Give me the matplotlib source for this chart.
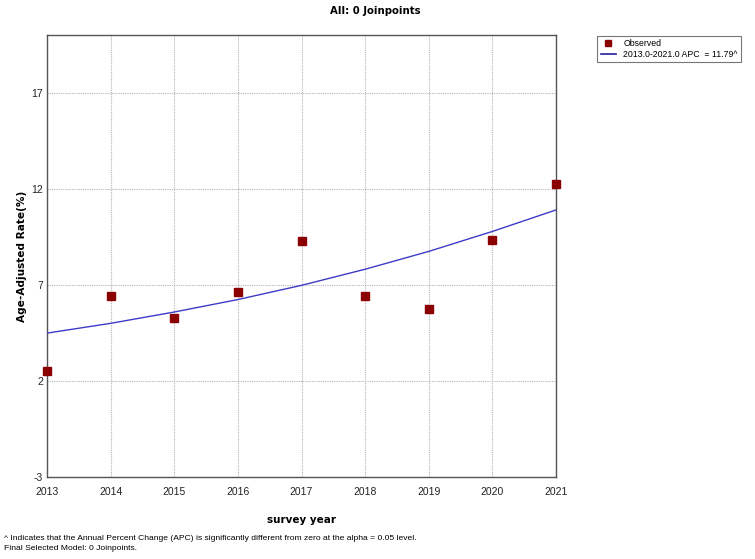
import matplotlib
matplotlib.use("Agg")
import matplotlib.pyplot as plt
from matplotlib.lines import Line2D

years = [2013, 2014, 2015, 2016, 2017, 2018, 2019, 2020, 2021]
observed = [2.51, 6.41, 5.31, 6.63, 9.28, 6.41, 5.75, 9.36, 12.28]
fitted = [4.50, 5.01, 5.60, 6.25, 6.99, 7.83, 8.76, 9.80, 10.92]
yticks = [-3, 2, 7, 12, 17]
title = "All: 0 Joinpoints"
xlabel = "survey year"
ylabel = "Age-Adjusted Rate(%)"
legend_obs = "Observed"
legend_fit = "2013.0-2021.0 APC  = 11.79^"
foot1 = "^ Indicates that the Annual Percent Change (APC) is significantly different from zero at the alpha = 0.05 level."
foot2 = "Final Selected Model: 0 Joinpoints."

plt.rcParams['font.family'] = ['Liberation Sans', 'DejaVu Sans']
plt.rcParams['axes.unicode_minus'] = False
bold_font = ['DejaVu Sans']

fig = plt.figure(figsize=(7.55, 5.59), dpi=100)
ax = fig.add_axes([47/755, 1-477/559, (556-47)/755, (477-35)/559])

ax.plot(years, fitted, color='#3c3cc8', lw=1.0, zorder=3)
ax.plot(years, observed, 's', color='#8b0000', markersize=6, zorder=4,
        linestyle='none', clip_on=False)

ax.set_xlim(2013, 2021)
ax.set_ylim(-3, 20.04)
ax.set_xticks(years)
ax.set_yticks(yticks)
ax.tick_params(axis='both', labelsize=7.5, length=0, colors='#222222')
ax.tick_params(axis='x', pad=7)
ax.tick_params(axis='y', pad=3)
ax.grid(True, color='#b4b4b4', linestyle=(0, (1, 1)), linewidth=0.8)
for s in ax.spines.values():
    s.set_color('#555555')
    s.set_linewidth(1.0)

ax.set_xlabel(xlabel, fontsize=7.5, fontweight='bold', labelpad=13, family=bold_font)
ax.set_ylabel(ylabel, fontsize=7.6, fontweight='bold', labelpad=3, family=bold_font)
fig.text(375/755, 1-11/559, title, ha='center', va='center', fontsize=7.3,
         fontweight='bold', family=bold_font)

handles = [Line2D([], [], marker='s', color='#8b0000', linestyle='none', markersize=5),
           Line2D([], [], color='#2020a0', lw=1.2)]
leg = fig.legend(handles, [legend_obs, legend_fit], loc='upper left',
                 bbox_to_anchor=(597/755, 1-36/559), fontsize=6.3, frameon=True,
                 fancybox=False, edgecolor='#555555', handlelength=1.8,
                 borderpad=0.4, labelspacing=0.15, handletextpad=0.8, borderaxespad=0)
leg.get_frame().set_linewidth(0.8)

fig.text(4/755, 1-539/559, foot1, ha='left', va='center', fontsize=6.1)
fig.text(4/755, 1-549/559, foot2, ha='left', va='center', fontsize=6.1)

fig.savefig('out.png', dpi=100)
